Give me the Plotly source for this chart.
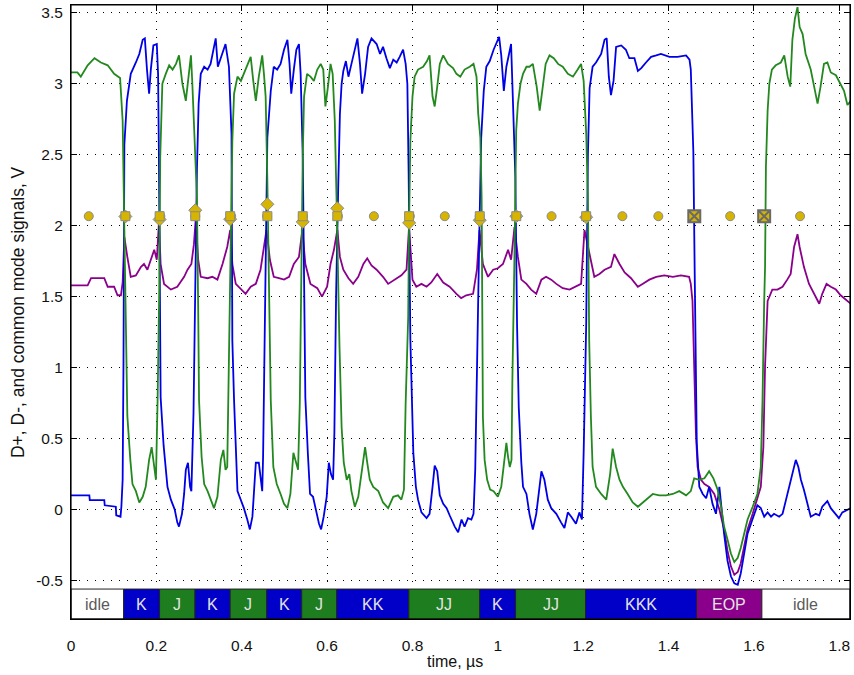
import plotly.graph_objects as go

# ---------------- data (time in µs, voltage in V) ----------------
# D- (blue)
dm_t = [0.000, 0.043, 0.044, 0.078, 0.079, 0.105, 0.106, 0.116, 0.118, 0.121, 0.123, 0.125, 0.131, 0.140, 0.152,
        0.160, 0.168, 0.173, 0.178, 0.183, 0.187, 0.193, 0.201, 0.204, 0.206, 0.208, 0.210, 0.217, 0.226, 0.234,
        0.243, 0.249, 0.253, 0.260, 0.265, 0.269, 0.274, 0.279, 0.282, 0.287, 0.290, 0.292, 0.295, 0.299, 0.304,
        0.312, 0.320, 0.327, 0.334, 0.339, 0.344, 0.352, 0.362, 0.370, 0.376, 0.378, 0.382, 0.390, 0.398, 0.405,
        0.413, 0.419, 0.425, 0.433, 0.440, 0.444, 0.448, 0.450, 0.456, 0.460, 0.468, 0.475, 0.483, 0.491, 0.499,
        0.507, 0.512, 0.516, 0.522, 0.528, 0.534, 0.538, 0.543, 0.546, 0.549, 0.555, 0.560, 0.567, 0.575, 0.581,
        0.586, 0.592, 0.599, 0.604, 0.609, 0.614, 0.617, 0.621, 0.626, 0.630, 0.634, 0.638, 0.644, 0.650, 0.657,
        0.665, 0.671, 0.677, 0.682, 0.689, 0.696, 0.704, 0.716, 0.724, 0.731, 0.739, 0.747, 0.755, 0.763, 0.770,
        0.778, 0.784, 0.788, 0.791, 0.795, 0.802, 0.808, 0.813, 0.821, 0.833, 0.840, 0.847, 0.852, 0.858, 0.864,
        0.872, 0.880, 0.887, 0.899, 0.907, 0.915, 0.922, 0.930, 0.938, 0.943, 0.947, 0.953, 0.957, 0.961, 0.967,
        0.973, 0.981, 0.990, 0.996, 1.003, 1.008, 1.014, 1.020, 1.031, 1.035, 1.041, 1.045, 1.049, 1.055, 1.059,
        1.067, 1.074, 1.082, 1.090, 1.096, 1.102, 1.109, 1.117, 1.125, 1.137, 1.148, 1.156, 1.164, 1.172, 1.183,
        1.191, 1.197, 1.201, 1.207, 1.211, 1.215, 1.222, 1.230, 1.242, 1.250, 1.255, 1.260, 1.265, 1.271, 1.277,
        1.289, 1.300, 1.308, 1.320, 1.328, 1.336, 1.347, 1.359, 1.371, 1.382, 1.402, 1.421, 1.441, 1.449, 1.452,
        1.458, 1.461, 1.463, 1.466, 1.472, 1.480, 1.488, 1.495, 1.503, 1.511, 1.519, 1.523, 1.530, 1.538, 1.546,
        1.554, 1.562, 1.569, 1.577, 1.585, 1.593, 1.601, 1.608, 1.616, 1.624, 1.632, 1.640, 1.647, 1.659, 1.667,
        1.675, 1.682, 1.690, 1.698, 1.704, 1.710, 1.717, 1.725, 1.733, 1.745, 1.753, 1.760, 1.772, 1.780, 1.792,
        1.799, 1.807, 1.819, 1.827]
dm_v = [0.10, 0.10, 0.067, 0.067, 0.03, 0.02, -0.04, -0.05, 0.02, 0.21, 1.04, 2.57, 2.88, 3.07, 3.15,
        3.21, 3.31, 3.32, 3.10, 2.93, 3.10, 3.27, 3.28, 3.07, 2.48, 1.50, 0.79, 0.45, 0.16, 0.07,
        0.00, -0.09, -0.12, -0.03, 0.11, 0.28, 0.33, 0.16, 0.13, 0.68, 1.50, 2.00, 2.39, 2.86, 3.07,
        3.12, 3.10, 3.14, 3.24, 3.32, 3.12, 3.19, 3.28, 3.12, 2.65, 1.19, 0.77, 0.13, 0.07, 0.01,
        -0.07, -0.14, -0.05, 0.33, 0.33, 0.21, 0.13, 0.37, 1.60, 2.62, 2.95, 3.12, 3.10, 3.14, 3.24,
        3.31, 3.14, 2.93, 3.10, 3.24, 3.28, 3.07, 2.48, 1.50, 0.79, 0.39, 0.11, 0.09, -0.03, -0.10,
        -0.14, -0.05, 0.09, 0.33, 0.25, 0.21, 0.54, 1.50, 2.27, 2.79, 3.00, 3.09, 3.16, 3.05, 3.14,
        3.24, 3.32, 3.14, 2.93, 3.07, 3.26, 3.32, 3.28, 3.21, 3.26, 3.18, 3.11, 3.17, 3.15, 3.19,
        3.24, 3.14, 3.00, 2.37, 1.20, 0.40, 0.16, 0.07, -0.02, -0.06, -0.03, 0.16, 0.31, 0.27, 0.10,
        0.04, 0.01, -0.04, -0.12, -0.16, -0.07, -0.12, -0.06, -0.07, -0.03, 0.28, 1.17, 2.00, 2.62, 2.95,
        3.12, 3.16, 3.24, 3.28, 3.33, 3.20, 2.95, 3.12, 3.28, 2.91, 2.34, 1.30, 0.72, 0.33, 0.16,
        0.11, -0.03, -0.14, -0.03, 0.12, 0.27, 0.21, 0.07, 0.01, -0.03, -0.09, -0.13, -0.02, -0.05, -0.10,
        -0.02, -0.07, 0.40, 1.31, 2.50, 2.97, 3.12, 3.15, 3.21, 3.31, 3.32, 3.05, 2.92, 3.02, 3.26,
        3.27, 3.24, 3.18, 3.18, 3.09, 3.11, 3.15, 3.19, 3.20, 3.21, 3.19, 3.19, 3.20, 3.17, 3.10,
        2.52, 1.71, 1.01, 0.47, 0.16, 0.11, 0.08, 0.16, 0.04, -0.03, 0.16, 0.02, -0.17, -0.36, -0.47,
        -0.52, -0.53, -0.45, -0.31, -0.17, -0.10, -0.03, 0.03, 0.01, -0.05, -0.02, -0.05, -0.03, -0.05, -0.03,
        0.07, 0.14, 0.25, 0.35, 0.30, 0.21, 0.14, 0.04, -0.05, -0.03, -0.04, 0.02, 0.06, 0.01, -0.03,
        -0.06, -0.02, 0.00, 0.01]

# D+ (green)
dp_t = [0.000, 0.015, 0.023, 0.039, 0.055, 0.070, 0.086, 0.101, 0.115, 0.121, 0.125, 0.129, 0.132, 0.139, 0.144,
        0.152, 0.160, 0.168, 0.175, 0.183, 0.189, 0.195, 0.199, 0.203, 0.207, 0.209, 0.214, 0.222, 0.230, 0.238,
        0.246, 0.253, 0.261, 0.269, 0.277, 0.281, 0.284, 0.290, 0.295, 0.298, 0.300, 0.306, 0.312, 0.320, 0.327,
        0.335, 0.343, 0.351, 0.357, 0.362, 0.366, 0.370, 0.374, 0.378, 0.382, 0.390, 0.398, 0.405, 0.413, 0.421,
        0.427, 0.433, 0.440, 0.448, 0.452, 0.456, 0.460, 0.464, 0.468, 0.474, 0.482, 0.491, 0.499, 0.507, 0.514,
        0.521, 0.526, 0.532, 0.536, 0.540, 0.543, 0.546, 0.553, 0.561, 0.569, 0.577, 0.585, 0.591, 0.596, 0.602,
        0.608, 0.613, 0.618, 0.622, 0.625, 0.629, 0.634, 0.639, 0.646, 0.652, 0.657, 0.665, 0.673, 0.681, 0.689,
        0.694, 0.700, 0.708, 0.720, 0.731, 0.743, 0.755, 0.766, 0.774, 0.780, 0.784, 0.790, 0.792, 0.795, 0.800,
        0.805, 0.813, 0.825, 0.834, 0.840, 0.847, 0.852, 0.858, 0.864, 0.872, 0.883, 0.895, 0.903, 0.912, 0.922,
        0.934, 0.943, 0.950, 0.954, 0.959, 0.962, 0.965, 0.969, 0.975, 0.982, 0.990, 1.000, 1.008, 1.016, 1.020,
        1.024, 1.028, 1.032, 1.034, 1.039, 1.043, 1.047, 1.053, 1.059, 1.067, 1.074, 1.082, 1.091, 1.098, 1.104,
        1.112, 1.121, 1.131, 1.141, 1.152, 1.164, 1.176, 1.187, 1.195, 1.201, 1.207, 1.211, 1.214, 1.218, 1.222,
        1.230, 1.242, 1.254, 1.263, 1.269, 1.277, 1.285, 1.293, 1.304, 1.316, 1.328, 1.339, 1.351, 1.363, 1.378,
        1.394, 1.410, 1.425, 1.441, 1.452, 1.460, 1.472, 1.484, 1.495, 1.505, 1.515, 1.523, 1.530, 1.538, 1.546,
        1.554, 1.562, 1.569, 1.577, 1.585, 1.597, 1.608, 1.616, 1.620, 1.624, 1.626, 1.628, 1.632, 1.636, 1.642,
        1.651, 1.663, 1.671, 1.679, 1.685, 1.690, 1.696, 1.702, 1.707, 1.714, 1.721, 1.733, 1.741, 1.749, 1.756,
        1.764, 1.772, 1.780, 1.792, 1.803, 1.811, 1.819, 1.827]
dp_v = [3.08, 3.08, 3.05, 3.13, 3.18, 3.15, 3.13, 3.07, 3.04, 2.74, 1.97, 1.33, 0.66, 0.35, 0.18,
        0.13, 0.05, 0.09, 0.16, 0.35, 0.44, 0.30, 0.21, 0.79, 1.60, 2.48, 3.00, 3.07, 3.13, 3.10,
        3.14, 3.20, 3.00, 2.88, 3.07, 3.20, 3.02, 2.60, 2.20, 1.40, 0.77, 0.37, 0.18, 0.13, 0.07,
        0.01, 0.09, 0.35, 0.42, 0.28, 0.30, 1.19, 2.00, 2.60, 2.93, 3.05, 3.02, 3.07, 3.12, 3.19,
        3.02, 2.88, 3.05, 3.20, 3.07, 2.91, 2.32, 1.33, 0.77, 0.30, 0.18, 0.11, 0.04, 0.01, 0.11,
        0.40, 0.35, 0.28, 0.75, 1.80, 2.50, 2.91, 3.07, 3.05, 3.02, 3.10, 3.14, 3.10, 2.84, 2.98,
        3.14, 3.07, 2.74, 2.20, 1.60, 1.15, 0.58, 0.33, 0.21, 0.25, 0.13, 0.02, 0.09, 0.28, 0.44,
        0.33, 0.21, 0.16, 0.13, 0.05, 0.01, 0.09, 0.10, 0.07, 0.14, 0.75, 1.36, 2.00, 2.60, 2.91,
        3.05, 3.10, 3.12, 3.16, 3.20, 2.91, 2.84, 2.98, 3.14, 3.20, 3.14, 3.11, 3.07, 3.05, 3.10,
        3.12, 3.14, 3.05, 2.79, 2.62, 2.20, 0.65, 0.35, 0.21, 0.14, 0.13, 0.09, 0.16, 0.39, 0.47,
        0.37, 0.30, 0.35, 0.91, 1.80, 2.67, 2.86, 3.00, 3.07, 3.12, 3.12, 3.14, 2.98, 2.81, 2.95,
        3.14, 3.20, 3.18, 3.14, 3.12, 3.07, 3.05, 3.10, 3.14, 3.02, 2.65, 2.20, 1.19, 0.65, 0.30,
        0.16, 0.11, 0.07, 0.25, 0.43, 0.30, 0.21, 0.16, 0.11, 0.05, 0.02, 0.05, 0.08, 0.11, 0.10,
        0.10, 0.11, 0.13, 0.10, 0.13, 0.22, 0.21, 0.22, 0.27, 0.22, 0.14, 0.02, -0.12, -0.21, -0.31,
        -0.37, -0.34, -0.27, -0.17, -0.07, 0.02, 0.11, 0.30, 0.77, 1.47, 1.71, 2.41, 2.81, 3.00, 3.10,
        3.13, 3.15, 3.20, 3.05, 2.98, 3.31, 3.46, 3.54, 3.40, 3.35, 3.21, 3.10, 2.98, 2.86, 2.98,
        3.14, 3.15, 3.08, 3.06, 3.00, 2.95, 2.85, 2.88]

# common mode (purple)
cm_t = [0.000, 0.039, 0.047, 0.078, 0.086, 0.101, 0.109, 0.117, 0.121, 0.125, 0.132, 0.140, 0.152, 0.164, 0.171,
        0.179, 0.187, 0.195, 0.201, 0.206, 0.210, 0.218, 0.234, 0.249, 0.265, 0.273, 0.282, 0.288, 0.292, 0.298,
        0.304, 0.320, 0.331, 0.343, 0.355, 0.366, 0.373, 0.378, 0.386, 0.398, 0.409, 0.421, 0.433, 0.444, 0.452,
        0.458, 0.466, 0.475, 0.487, 0.499, 0.511, 0.522, 0.534, 0.542, 0.549, 0.561, 0.577, 0.588, 0.600, 0.608,
        0.616, 0.624, 0.630, 0.638, 0.650, 0.661, 0.673, 0.685, 0.694, 0.704, 0.716, 0.731, 0.743, 0.759, 0.774,
        0.786, 0.792, 0.800, 0.809, 0.821, 0.833, 0.844, 0.858, 0.872, 0.887, 0.903, 0.914, 0.926, 0.942, 0.951,
        0.957, 0.965, 0.977, 0.989, 1.000, 1.012, 1.024, 1.031, 1.039, 1.047, 1.055, 1.067, 1.078, 1.090, 1.102,
        1.113, 1.125, 1.137, 1.152, 1.168, 1.183, 1.195, 1.203, 1.215, 1.226, 1.238, 1.250, 1.265, 1.273, 1.285,
        1.297, 1.312, 1.328, 1.339, 1.355, 1.371, 1.390, 1.410, 1.429, 1.448, 1.452, 1.456, 1.460, 1.464, 1.468,
        1.476, 1.484, 1.495, 1.507, 1.519, 1.530, 1.538, 1.546, 1.554, 1.562, 1.569, 1.577, 1.585, 1.597, 1.608,
        1.616, 1.622, 1.626, 1.632, 1.636, 1.643, 1.655, 1.667, 1.678, 1.686, 1.694, 1.702, 1.707, 1.717, 1.729,
        1.741, 1.753, 1.760, 1.770, 1.780, 1.792, 1.803, 1.815, 1.827]
cm_v = [1.58, 1.58, 1.63, 1.63, 1.57, 1.57, 1.51, 1.51, 1.60, 1.92, 1.78, 1.64, 1.65, 1.71, 1.73,
        1.69, 1.76, 1.83, 1.76, 2.02, 1.73, 1.59, 1.55, 1.57, 1.64, 1.69, 1.73, 1.87, 2.04, 1.76,
        1.64, 1.63, 1.64, 1.62, 1.73, 1.85, 1.97, 1.73, 1.59, 1.55, 1.52, 1.57, 1.59, 1.69, 1.85,
        1.97, 1.76, 1.64, 1.63, 1.62, 1.64, 1.73, 1.78, 1.97, 1.73, 1.59, 1.56, 1.50, 1.57, 1.73,
        1.83, 1.97, 1.78, 1.69, 1.63, 1.59, 1.64, 1.73, 1.77, 1.72, 1.69, 1.64, 1.59, 1.62, 1.65,
        1.69, 1.99, 1.62, 1.57, 1.59, 1.57, 1.60, 1.66, 1.60, 1.57, 1.52, 1.49, 1.51, 1.52, 1.69,
        1.97, 1.73, 1.64, 1.69, 1.70, 1.73, 1.83, 1.76, 1.99, 1.78, 1.62, 1.59, 1.55, 1.52, 1.62,
        1.64, 1.62, 1.59, 1.56, 1.55, 1.57, 1.59, 1.97, 1.80, 1.64, 1.66, 1.69, 1.71, 1.80, 1.73,
        1.67, 1.63, 1.57, 1.59, 1.62, 1.64, 1.65, 1.64, 1.65, 1.64, 1.59, 1.47, 1.01, 0.54, 0.30,
        0.21, 0.18, 0.16, 0.11, 0.00, -0.14, -0.29, -0.40, -0.46, -0.44, -0.38, -0.26, -0.14, -0.03, 0.09,
        0.16, 0.44, 1.01, 1.47, 1.50, 1.55, 1.55, 1.57, 1.62, 1.66, 1.85, 1.94, 1.85, 1.71, 1.59,
        1.52, 1.45, 1.52, 1.59, 1.57, 1.55, 1.51, 1.48, 1.45]

# sampling points (circles), edge detections (squares/diamonds), SE0 detections
sample_t = [0.0416, 0.1274, 0.2093, 0.2911, 0.3753, 0.4595, 0.5436, 0.6254, 0.7096, 0.7938, 0.8757,
            0.9575, 1.0440, 1.1258, 1.2076, 1.2918, 1.3760, 1.4601, 1.5443, 1.6262, 1.7080]
sample_v = [2.067, 2.067, 2.067, 2.067, 2.067, 2.067, 2.067, 2.067, 2.067, 2.067, 2.067,
            2.067, 2.067, 2.067, 2.067, 2.067, 2.067, 2.067, 2.067, 2.067, 2.067]
edge_t = [0.1274, 0.2076, 0.2911, 0.3729, 0.4601, 0.5429, 0.6238, 0.7921, 0.9576, 1.0432, 1.2069]
edge_sq_v = [2.067, 2.067, 2.067, 2.067, 2.067, 2.067, 2.067, 2.067, 2.067, 2.067, 2.067]
edge_dia_v = [2.065, 2.044, 2.109, 2.046, 2.151, 2.027, 2.123, 2.020, 2.039, 2.067, 2.060]
se0_t = [1.4602, 1.6239]
se0_v = [2.067, 2.067]

# bus state strip
seg_bounds = [0.0, 0.1235, 0.2075, 0.2905, 0.373, 0.4585, 0.5405, 0.6225, 0.7915, 0.9575, 1.0415,
              1.2055, 1.4655, 1.6185, 1.825]
seg_labels = ["idle", "K", "J", "K", "J", "K", "J", "KK", "JJ", "K", "JJ", "KKK", "EOP", "idle"]

x_ticks = [0, 0.2, 0.4, 0.6, 0.8, 1.0, 1.2, 1.4, 1.6, 1.8]
x_tick_text = ["0", "0.2", "0.4", "0.6", "0.8", "1", "1.2", "1.4", "1.6", "1.8"]
y_ticks = [-0.5, 0, 0.5, 1, 1.5, 2, 2.5, 3, 3.5]
y_tick_text = ["-0.5", "0", "0.5", "1", "1.5", "2", "2.5", "3", "3.5"]

# ---------------- styles ----------------
BLUE = "#0000E6"
GREEN = "#23891F"
PURPLE = "#8B008B"
STRIP_COL = {"idle": "#FFFFFF", "K": "#0000C8", "KK": "#0000C8", "KKK": "#0000C8",
             "J": "#1E7D1E", "JJ": "#1E7D1E", "EOP": "#8B008B"}
YELLOW = "#D6B400"
FONT = "Liberation Sans, Arial, sans-serif"
X_MIN, X_MAX = 0.0, 1.825
Y_MIN, Y_MAX = -0.771, 3.555
STRIP_Y0, STRIP_Y1 = -0.771, -0.560

fig = go.Figure()
fig.add_trace(go.Scatter(x=cm_t, y=cm_v, mode="lines", line=dict(color=PURPLE, width=1.8), hoverinfo="skip"))
fig.add_trace(go.Scatter(x=dm_t, y=dm_v, mode="lines", line=dict(color=BLUE, width=1.8), hoverinfo="skip"))
fig.add_trace(go.Scatter(x=dp_t, y=dp_v, mode="lines", line=dict(color=GREEN, width=1.8), hoverinfo="skip"))

fig.add_trace(go.Scatter(x=sample_t, y=sample_v, mode="markers",
                         marker=dict(symbol="circle", size=9, color=YELLOW, line=dict(color="#8a8a8a", width=1))))
fig.add_trace(go.Scatter(x=edge_t, y=edge_dia_v, mode="markers",
                         marker=dict(symbol="diamond", size=10, color=YELLOW, line=dict(color="#8a8a8a", width=1))))
fig.add_trace(go.Scatter(x=edge_t, y=edge_sq_v, mode="markers",
                         marker=dict(symbol="square", size=9, color=YELLOW, line=dict(color="#8a8a8a", width=1))))
fig.add_trace(go.Scatter(x=se0_t, y=se0_v, mode="markers",
                         marker=dict(symbol="square-x", size=12, color=YELLOW, line=dict(color="#6a6a6a", width=2))))

shapes = []
annotations = []
for i, lab in enumerate(seg_labels):
    x0, x1 = seg_bounds[i], seg_bounds[i + 1]
    shapes.append(dict(type="rect", xref="x", yref="y", x0=x0, x1=x1, y0=STRIP_Y0, y1=STRIP_Y1,
                       fillcolor=STRIP_COL[lab], line=dict(color="#222222", width=1), layer="above"))
    annotations.append(dict(x=(x0 + x1) / 2, y=(STRIP_Y0 + STRIP_Y1) / 2, xref="x", yref="y", text=lab,
                            showarrow=False, font=dict(family=FONT, size=16,
                                                       color="#5a5a5a" if lab == "idle" else "#e4e4e4")))
# frame line around the whole axes
shapes.append(dict(type="rect", xref="paper", yref="paper", x0=0, x1=1, y0=0, y1=1,
                   line=dict(color="black", width=1.2), layer="above"))

annotations.append(dict(text="D+, D-, and common mode signals, V", xref="paper", yref="paper",
                        x=-0.068, y=0.5, textangle=-90, showarrow=False,
                        font=dict(family=FONT, size=17.5, color="#111111"), xanchor="center", yanchor="middle"))
annotations.append(dict(text="time, µs", xref="paper", yref="paper", x=0.493, y=-0.070, showarrow=False,
                        font=dict(family=FONT, size=16, color="#111111"), xanchor="center", yanchor="middle"))

grid_dash = "1px,7px"
fig.update_layout(
    width=854, height=675,
    margin=dict(l=71, r=4, t=5, b=56, autoexpand=False),
    paper_bgcolor="white", plot_bgcolor="white",
    showlegend=False,
    shapes=shapes, annotations=annotations,
    font=dict(family=FONT, size=15.5, color="#111111"),
    xaxis=dict(range=[X_MIN, X_MAX], tickvals=x_ticks, ticktext=x_tick_text, automargin=False,
               showgrid=True, gridcolor="black", gridwidth=1, griddash=grid_dash,
               zeroline=False, showline=True, linecolor="black", linewidth=1, mirror="ticks",
               ticks="inside", ticklen=6, tickcolor="black", ticklabelstandoff=12),
    yaxis=dict(range=[Y_MIN, Y_MAX], tickvals=y_ticks, ticktext=y_tick_text, automargin=False,
               showgrid=True, gridcolor="black", gridwidth=1, griddash=grid_dash,
               zeroline=False, showline=True, linecolor="black", linewidth=1, mirror="ticks",
               ticks="inside", ticklen=6, tickcolor="black", ticklabelstandoff=4),
)

fig.write_html("out.html",
               config={"displayModeBar": False, "staticPlot": True},
               post_script="document.body.style.margin='0';document.body.style.padding='0';"
                           "document.body.style.overflow='hidden';")
